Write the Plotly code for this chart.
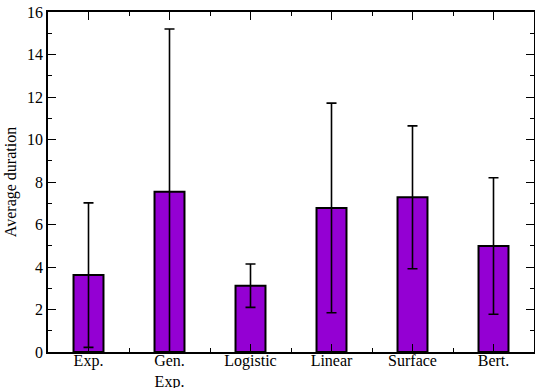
import plotly.graph_objects as go

# Average duration per model, with standard-deviation error bars
categories = ["Exp.", "Gen.<br>Exp.", "Logistic", "Linear", "Surface", "Bert."]
means = [3.62, 7.54, 3.12, 6.78, 7.28, 4.99]
errors = [3.40, 7.66, 1.02, 4.93, 3.36, 3.21]
y_ticks = [0, 2, 4, 6, 8, 10, 12, 14, 16]

x_pos = list(range(len(categories)))
font_family = "Liberation Serif"

fig = go.Figure(
    go.Bar(
        x=x_pos,
        y=means,
        width=0.37,
        marker=dict(color="#9400D3", line=dict(color="black", width=2)),
        error_y=dict(type="data", array=errors, visible=True,
                     color="black", thickness=1.6, width=5),
    )
)

fig.update_layout(
    width=535,
    height=388,
    margin=dict(l=48, r=1, t=12, b=36),
    plot_bgcolor="white",
    paper_bgcolor="white",
    showlegend=False,
    font=dict(family=font_family, size=16, color="black"),
)

fig.update_xaxes(
    range=[-0.5, 5.5],
    tickmode="array",
    tickvals=x_pos,
    ticktext=categories,
    ticks="inside",
    ticklen=8,
    tickwidth=1.3,
    tickcolor="black",
    minor=dict(ticks="inside", tick0=0.5, dtick=1, ticklen=4,
               tickwidth=1.3, tickcolor="black"),
    showline=True,
    linecolor="black",
    linewidth=1.5,
    mirror="allticks",
    showgrid=False,
    zeroline=False,
    automargin=False,
    ticklabelstandoff=-7,
    tickfont=dict(family=font_family, size=16),
)

fig.update_yaxes(
    range=[0, 16],
    tickmode="array",
    tickvals=y_ticks,
    ticks="inside",
    ticklen=8,
    tickwidth=1.3,
    tickcolor="black",
    minor=dict(ticks="inside", tick0=0, dtick=1, ticklen=4,
               tickwidth=1.3, tickcolor="black"),
    showline=True,
    linecolor="black",
    linewidth=1.5,
    mirror="allticks",
    showgrid=False,
    zeroline=False,
    automargin=False,
    tickfont=dict(family=font_family, size=16),
    title=dict(text="Average duration", font=dict(family=font_family, size=16),
               standoff=6),
)

fig.write_html("out.html")
